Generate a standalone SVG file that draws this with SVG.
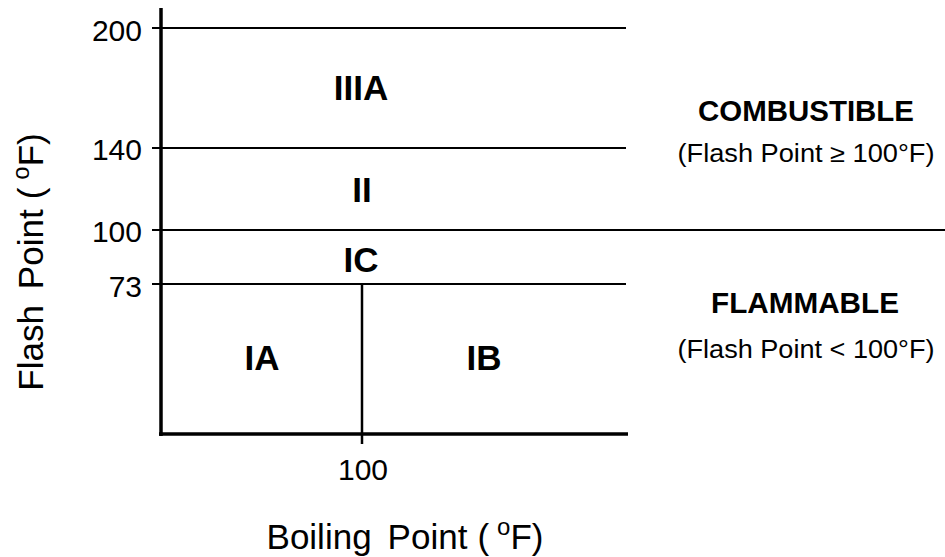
<svg xmlns="http://www.w3.org/2000/svg" width="945" height="557" viewBox="0 0 945 557">
<style>
.ln{stroke:#000;stroke-width:2;fill:none}
.ax{stroke:#000;stroke-width:3.5;fill:none}
.tk{font-family:"Liberation Sans",Arial,sans-serif;font-size:30px;fill:#000}
.bl{font-family:"Liberation Sans",Arial,sans-serif;font-size:35px;font-weight:bold;fill:#000;text-anchor:middle}
.hd{font-family:"Liberation Sans",Arial,sans-serif;font-size:29px;font-weight:bold;fill:#000;text-anchor:middle}
.sb{font-family:"Liberation Sans",Arial,sans-serif;font-size:25px;fill:#000;text-anchor:middle}
.at{font-family:"Liberation Sans",Arial,sans-serif;font-size:35px;fill:#000;text-anchor:middle}
</style>
<rect width="945" height="557" fill="#fff"/>
<g id="connectors">
<line class="ln" x1="152" y1="28" x2="626" y2="28"/>
<line class="ln" x1="152" y1="148" x2="626" y2="148"/>
<line class="ln" x1="152" y1="230" x2="945" y2="230"/>
<line class="ln" x1="152" y1="284" x2="626" y2="284"/>
<line class="ln" x1="362" y1="284" x2="362" y2="444" style="stroke-width:2.5"/>
<line class="ax" x1="161" y1="8" x2="161" y2="436"/>
<line class="ax" x1="159" y1="434" x2="628" y2="434"/>
</g>
<g id="ticks">
<text class="tk" x="142" y="41" text-anchor="end">200</text>
<text class="tk" x="142" y="160" text-anchor="end">140</text>
<text class="tk" x="142" y="242" text-anchor="end">100</text>
<text class="tk" x="142" y="297" text-anchor="end">73</text>
<text class="tk" x="363" y="480" text-anchor="middle">100</text>
</g>
<g id="class-IIIA"><text class="bl" x="361" y="100">IIIA</text></g>
<g id="class-II"><text class="bl" x="362" y="202">II</text></g>
<g id="class-IC"><text class="bl" x="361" y="272">IC</text></g>
<g id="class-IA"><text class="bl" x="262" y="370">IA</text></g>
<g id="class-IB"><text class="bl" x="484" y="370">IB</text></g>
<g id="combustible">
<text class="hd" x="806" y="121" textLength="216" lengthAdjust="spacingAndGlyphs">COMBUSTIBLE</text>
<text class="sb" x="806" y="162" textLength="257" lengthAdjust="spacingAndGlyphs">(Flash Point ≥ 100°F)</text>
</g>
<g id="flammable">
<text class="hd" x="805" y="313" textLength="188" lengthAdjust="spacingAndGlyphs">FLAMMABLE</text>
<text class="sb" x="806" y="358" textLength="257" lengthAdjust="spacingAndGlyphs">(Flash Point &lt; 100°F)</text>
</g>
<g id="x-axis-title">
<text class="at" x="405" y="549">Boiling<tspan dx="16">Point</tspan><tspan dx="10">(</tspan><tspan dx="8" font-size="24" dy="-14">o</tspan><tspan dy="14">F)</tspan></text>
</g>
<g id="y-axis-title">
<text class="at" transform="translate(43,262) rotate(-90)" x="0" y="0">Flash<tspan dx="16">Point</tspan><tspan dx="10">(</tspan><tspan dx="8" font-size="24" dy="-14">o</tspan><tspan dy="14">F)</tspan></text>
</g>
</svg>
